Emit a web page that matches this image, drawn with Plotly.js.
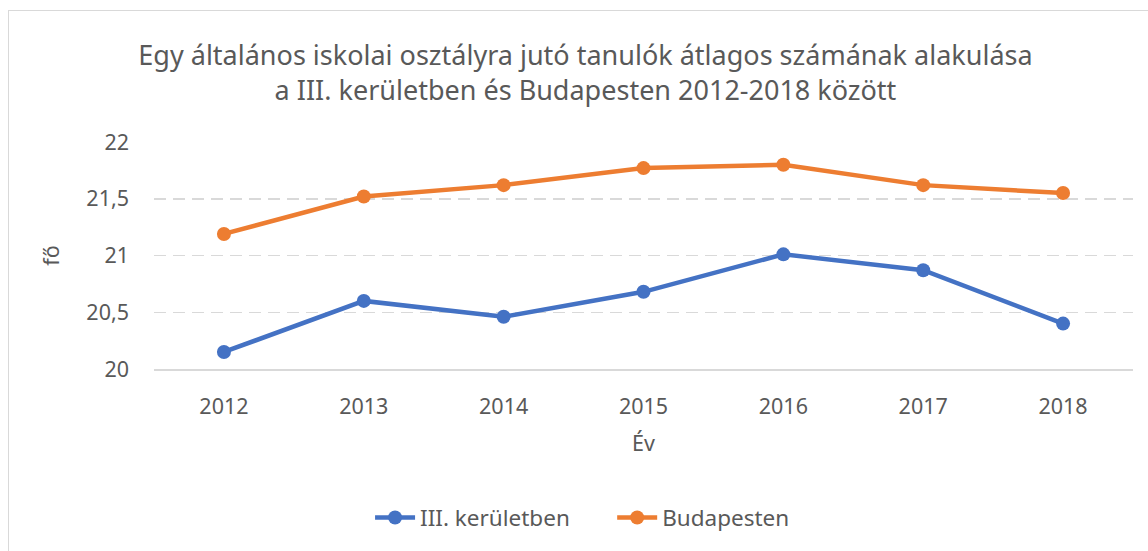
<!DOCTYPE html>
<html>
<head>
<meta charset="utf-8">
<script src="https://cdn.plot.ly/plotly-3.0.1.min.js"></script>
<style>
  html, body { margin: 0; padding: 0; background: #fff; }
  #wrap { position: relative; width: 1148px; height: 551px; overflow: hidden; }
  #frame { position: absolute; left: 8px; top: 10px; width: 1200px; height: 600px; border: 1.5px solid #d9d9d9; pointer-events: none; box-sizing: border-box; }
  #chart { position: absolute; left: 0; top: 0; width: 1148px; height: 551px; }
</style>
</head>
<body>
<div id="wrap">
  <div id="frame"></div>
  <div id="chart"></div>
</div>
<script>
const years = ['2012', '2013', '2014', '2015', '2016', '2017', '2018'];
const kerulet = [20.15, 20.60, 20.46, 20.68, 21.01, 20.87, 20.40];
const budapest = [21.19, 21.52, 21.62, 21.77, 21.80, 21.62, 21.55];
const yTickVals = [20, 20.5, 21, 21.5, 22];
const yTickText = ['20', '20,5', '21', '21,5', '22'];
const seriesNames = ['III. kerületben', 'Budapesten'];

const FONT = 'Noto Sans, sans-serif';
const TXT = '#595959';

const traces = [
  { x: years, y: kerulet, name: seriesNames[0], type: 'scatter', mode: 'lines+markers', legend: 'legend',
    line: { color: '#4472C4', width: 4.5 }, marker: { color: '#4472C4', size: 14 } },
  { x: years, y: budapest, name: seriesNames[1], type: 'scatter', mode: 'lines+markers', legend: 'legend2',
    line: { color: '#ED7D31', width: 4.5 }, marker: { color: '#ED7D31', size: 14 } }
];

const legendFont = { family: FONT, size: 22.5, color: TXT };

const layout = {
  width: 1148, height: 551,
  paper_bgcolor: 'rgba(0,0,0,0)', plot_bgcolor: 'rgba(0,0,0,0)',
  margin: { l: 154, r: 15, t: 142, b: 182 },
  font: { family: FONT, color: TXT },
  title: {
    text: 'Egy általános iskolai osztályra jutó tanulók átlagos számának alakulása<br>a III. kerületben és Budapesten 2012-2018 között',
    font: { family: FONT, size: 27, color: TXT },
    xref: 'container', x: 0.51, xanchor: 'center',
    yref: 'container', y: 0.882, yanchor: 'middle'
  },
  xaxis: {
    type: 'category', range: [-0.5, 6.5],
    showgrid: false, zeroline: false,
    showline: true, linecolor: '#d9d9d9', linewidth: 1.5,
    ticks: '', tickfont: { family: FONT, size: 21.5, color: TXT },
    ticklabelstandoff: 18,
    title: { text: 'Év', font: { family: FONT, size: 21.5, color: TXT }, standoff: 16 }
  },
  yaxis: {
    range: [20, 22], tickvals: yTickVals, ticktext: yTickText,
    showgrid: true, gridcolor: '#d9d9d9', griddash: '12px,7px', gridwidth: 1.5,
    zeroline: false, showline: false, ticks: '',
    tickfont: { family: FONT, size: 21.5, color: TXT },
    ticklabelstandoff: 24,
    title: { text: 'fő', font: { family: FONT, size: 21.5, color: TXT }, standoff: 20 }
  },
  showlegend: true,
  legend: {
    orientation: 'h', x: 0.2207, xanchor: 'left', y: -0.656, yanchor: 'middle',
    font: legendFont, itemwidth: 40, bgcolor: 'rgba(0,0,0,0)'
  },
  legend2: {
    orientation: 'h', x: 0.4680, xanchor: 'left', y: -0.656, yanchor: 'middle',
    font: legendFont, itemwidth: 40, bgcolor: 'rgba(0,0,0,0)'
  }
};

Plotly.newPlot('chart', traces, layout, { displayModeBar: false, staticPlot: true });
</script>
</body>
</html>
